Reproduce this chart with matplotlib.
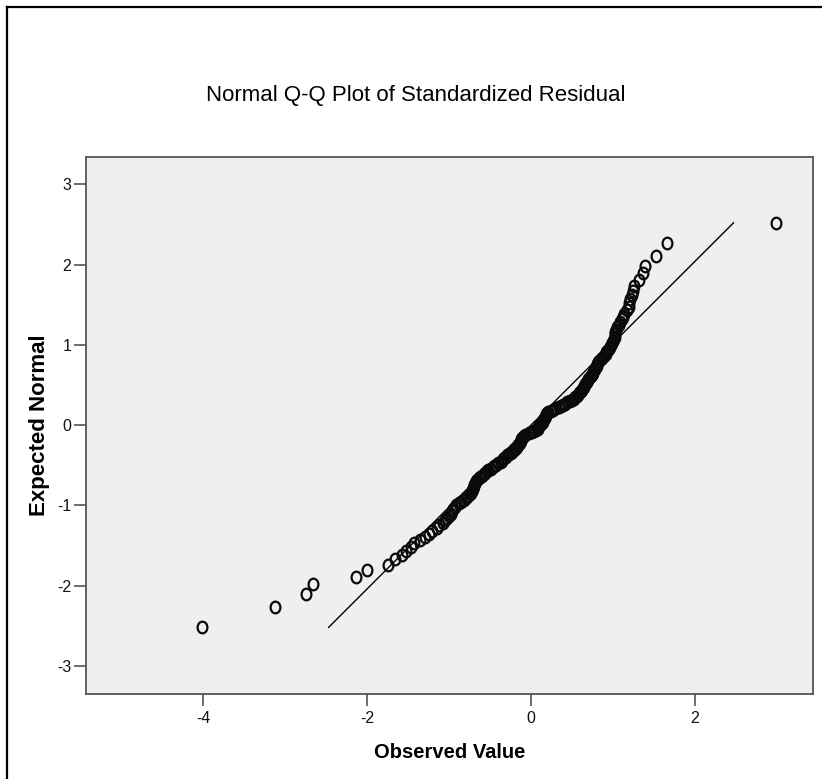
import matplotlib
matplotlib.use("Agg")
import matplotlib.pyplot as plt
from matplotlib.path import Path
from matplotlib.lines import Line2D

plt.rcParams['font.family'] = ['Liberation Sans', 'DejaVu Sans']
plt.rcParams['axes.unicode_minus'] = False

# ---------------- data ----------------
title = "Normal Q-Q Plot of Standardized Residual"
x_label = "Observed Value"
y_label = "Expected Normal"

x_ticks = [-4, -2, 0, 2]
y_ticks = [-3, -2, -1, 0, 1, 2, 3]

observed = [
    -4.01, -3.13, -2.74, -2.66, -2.13, -2.00, -1.75, -1.66, -1.58, -1.52,
    -1.47, -1.43, -1.36, -1.30, -1.25, -1.21, -1.15, -1.12, -1.08, -1.05,
    -1.02, -1.00, -0.98, -0.96, -0.95, -0.93, -0.91, -0.88, -0.85, -0.82,
    -0.79, -0.77, -0.75, -0.73, -0.72, -0.71, -0.71, -0.70, -0.69, -0.68,
    -0.67, -0.66, -0.64, -0.62, -0.60, -0.58, -0.56, -0.54, -0.52, -0.49,
    -0.47, -0.45, -0.43, -0.40, -0.37, -0.35, -0.34, -0.33, -0.31, -0.29,
    -0.27, -0.25, -0.23, -0.21, -0.19, -0.18, -0.17, -0.16, -0.15, -0.14,
    -0.13, -0.12, -0.12, -0.11, -0.10, -0.09, -0.07, -0.03, 0.01, 0.04,
    0.06, 0.08, 0.09, 0.10, 0.11,
    0.12, 0.13, 0.14, 0.15, 0.16, 0.17, 0.17, 0.18, 0.18, 0.19,
    0.21, 0.24, 0.27, 0.31, 0.34, 0.37, 0.39, 0.41, 0.44, 0.47,
    0.50, 0.52, 0.54, 0.56, 0.57, 0.59, 0.60, 0.61, 0.62, 0.63,
    0.64, 0.65, 0.66, 0.67, 0.68, 0.69, 0.70, 0.72, 0.73, 0.74,
    0.75, 0.76, 0.77, 0.78, 0.79, 0.80, 0.81, 0.82, 0.83, 0.85,
    0.87, 0.89, 0.91, 0.92, 0.93, 0.95, 0.96, 0.97, 0.99, 1.00,
    1.01, 1.02, 1.02, 1.03, 1.04, 1.05, 1.07, 1.09, 1.11, 1.12,
    1.14, 1.17, 1.19, 1.20, 1.21, 1.23, 1.24, 1.26, 1.32, 1.36,
    1.39, 1.53, 1.66, 2.99,
]

expected = [
    -2.518, -2.265, -2.105, -1.985, -1.889, -1.807, -1.737, -1.674, -1.617, -1.565,
    -1.516, -1.472, -1.429, -1.389, -1.351, -1.316, -1.282, -1.249, -1.217, -1.187,
    -1.157, -1.129, -1.102, -1.075, -1.049, -1.024, -1.000, -0.976, -0.952, -0.929,
    -0.907, -0.885, -0.863, -0.842, -0.821, -0.800, -0.780, -0.760, -0.741, -0.722,
    -0.702, -0.684, -0.665, -0.647, -0.629, -0.611, -0.593, -0.576, -0.558, -0.541,
    -0.524, -0.508, -0.491, -0.474, -0.458, -0.442, -0.426, -0.410, -0.394, -0.377,
    -0.362, -0.346, -0.330, -0.315, -0.299, -0.284, -0.269, -0.253, -0.238, -0.223,
    -0.208, -0.193, -0.178, -0.163, -0.148, -0.133, -0.118, -0.104, -0.089, -0.074,
    -0.059, -0.044, -0.029, -0.015, 0.000,
    0.015, 0.029, 0.044, 0.059, 0.074, 0.089, 0.104, 0.118, 0.133, 0.148,
    0.163, 0.178, 0.193, 0.208, 0.223, 0.238, 0.253, 0.269, 0.284, 0.299,
    0.315, 0.330, 0.346, 0.362, 0.377, 0.394, 0.410, 0.426, 0.442, 0.458,
    0.474, 0.491, 0.508, 0.524, 0.541, 0.558, 0.576, 0.593, 0.611, 0.629,
    0.647, 0.665, 0.684, 0.702, 0.722, 0.741, 0.760, 0.780, 0.800, 0.821,
    0.842, 0.863, 0.885, 0.907, 0.929, 0.952, 0.976, 1.000, 1.024, 1.049,
    1.075, 1.102, 1.129, 1.157, 1.187, 1.217, 1.249, 1.282, 1.316, 1.351,
    1.389, 1.429, 1.472, 1.516, 1.565, 1.617, 1.674, 1.737, 1.807, 1.889,
    1.985, 2.105, 2.265, 2.518,
]

line_x = [-2.47, 2.47]
line_y = [-2.52, 2.52]

# ---------------- figure ----------------
W, H, DPI = 822, 779, 100
fig = plt.figure(figsize=(W / DPI, H / DPI), dpi=DPI, facecolor="white")

ax = fig.add_axes([86 / W, 1 - 694 / H, (813 - 86) / W, (694 - 157) / H])
ax.set_facecolor("#EFEFEF")
ax.set_xlim(-5.43, 3.44)
ax.set_ylim(-3.35, 3.34)

# slightly narrow circle, as in the reference
circ = Path.unit_circle()
oval = Path(circ.vertices * [0.84, 1.0], circ.codes)

ax.plot(line_x, line_y, color="black", lw=1.0, zorder=2)
ax.plot(observed, expected, linestyle="none", marker=oval, markersize=8.4,
        markerfacecolor="none", markeredgecolor="#0a0a0a", markeredgewidth=1.6,
        zorder=3)

ax.set_xticks(x_ticks)
ax.set_yticks(y_ticks)
ax.tick_params(axis="both", direction="out", length=8.5, width=1.1,
               color="#444444", labelsize=11.5, labelcolor="#111111")
ax.tick_params(axis="x", pad=3.5)
ax.tick_params(axis="y", pad=2)
ax.tick_params(top=False, right=False)

for s in ax.spines.values():
    s.set_color("#555555")
    s.set_linewidth(1.3)

fig.text(416 / W, 1 - 96 / H, title, ha="center", va="center",
         fontsize=16, color="black")
fig.text(450 / W, 1 - 753 / H, x_label, ha="center", va="center",
         fontsize=14.5, fontweight="bold", color="black")
fig.text(40 / W, 1 - 425 / H, y_label, ha="center", va="center",
         rotation=90, fontsize=16, fontweight="bold", color="black")

# outer frame (left and top edges visible in the reference)
fig.add_artist(Line2D([7 / W, 7 / W], [0, 1 - 7 / H], transform=fig.transFigure,
                      color="black", lw=1.6))
fig.add_artist(Line2D([7 / W, 1], [1 - 7 / H, 1 - 7 / H], transform=fig.transFigure,
                      color="black", lw=1.6))

fig.savefig("out.png", dpi=DPI, facecolor="white")
